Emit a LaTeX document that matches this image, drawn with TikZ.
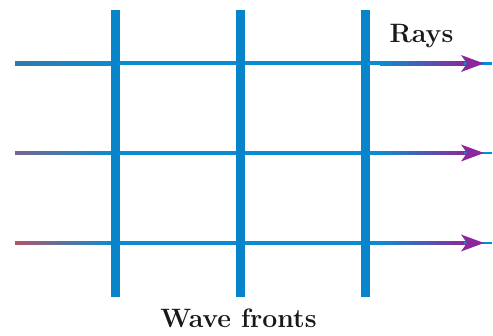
\documentclass[tikz,border=0pt]{standalone}
\usepackage{fontspec}
\usetikzlibrary{arrows.meta,calc}
\definecolor{wfblue}{RGB}{8,132,202}
\definecolor{rayblue}{RGB}{10,140,210}
\definecolor{raypurp}{RGB}{140,40,155}
\definecolor{lefttop}{RGB}{50,120,170}
\definecolor{leftmid}{RGB}{120,100,140}
\definecolor{leftbot}{RGB}{175,85,110}
\tikzset{
  wavefront/.style={draw=wfblue, line width=8.5pt},
  rayhead/.style={fill=raypurp, draw=none},
  lbl/.style={font=\bfseries\fontsize{26.6}{30}\selectfont, text=black!90, inner sep=0pt}
}
\begin{document}
\begin{tikzpicture}[x=1pt,y=-1pt]
\useasboundingbox (0,0) rectangle (493,336);
% ray endpoints
\foreach \n/\y in {1/63.5,2/153,3/243}{
  \coordinate (L\n) at (15,\y);
  \coordinate (R\n) at (492,\y);
}
% rays: left gradient, middle, right gradient
\foreach \n/\c in {1/lefttop,2/leftmid,3/leftbot}{
  \fill[rayblue] ($(L\n)+(94,-2)$) rectangle ($(R\n)+(-110,2)$);
  \shade[left color=\c, right color=rayblue] ($(L\n)+(0,-1.6)$) rectangle ($(L\n)+(96,1.6)$);
  \shade[left color=rayblue, right color=raypurp] ($(R\n)+(-112,-1.6)$) rectangle ($(R\n)+(-26,1.6)$);
  \fill[rayblue] ($(R\n)+(-28,-1.2)$) rectangle ($(R\n)+(0,1.2)$);
  \path[rayhead] ($(R\n)+(-8,0)$) -- ($(R\n)+(-31,-8.5)$) -- ($(R\n)+(-25,0)$) -- ($(R\n)+(-31,8.5)$) -- cycle;
}
% wave fronts
\foreach \n/\x in {1/115.5,2/240.5,3/365.5}{
  \coordinate (T\n) at (\x,10);
  \coordinate (B\n) at (\x,297);
  \draw[wavefront] (T\n) -- (B\n);
}
\node[lbl, anchor=base] (rays) at (421.5,43) {Rays};
\node[lbl, anchor=base] (wf) at (238.5,328) {Wave fronts};
\end{tikzpicture}
\end{document}
